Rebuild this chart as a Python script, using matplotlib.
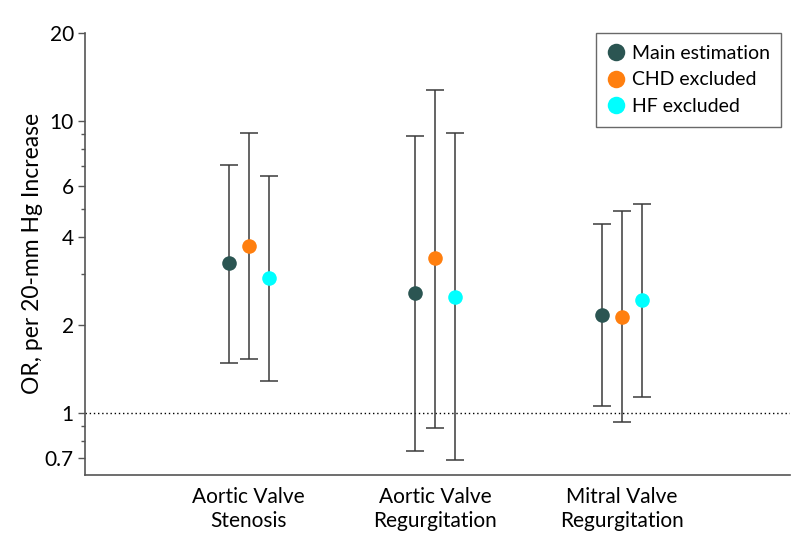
import matplotlib
matplotlib.use("Agg")
import matplotlib.pyplot as plt
from matplotlib.ticker import FixedLocator, NullFormatter, FixedFormatter

# Data.
categories = ["Aortic Valve\nStenosis", "Aortic Valve\nRegurgitation", "Mitral Valve\nRegurgitation"]
series_names = ["Main estimation", "CHD excluded", "HF excluded"]
series_colors = ["#2b5552", "#ff7f0f", "#00ffff"]

main_or = [3.25, 2.57, 2.16]
main_lo = [1.48, 0.74, 1.06]
main_hi = [7.06, 8.90, 4.43]

chd_or = [3.73, 3.38, 2.13]
chd_lo = [1.53, 0.89, 0.93]
chd_hi = [9.06, 12.8, 4.90]

hf_or = [2.89, 2.50, 2.43]
hf_lo = [1.29, 0.69, 1.13]
hf_hi = [6.50, 9.06, 5.19]

major_ticks = [0.7, 1, 2, 4, 6, 10, 20]
major_labels = ["0.7", "1", "2", "4", "6", "10", "20"]
minor_ticks = [0.8, 0.9, 3, 5, 7, 8, 9]

plt.rcParams["font.family"] = ["Lato", "DejaVu Sans"]

fig = plt.figure(figsize=(7.94, 5.49), dpi=100)
ax = fig.add_axes([0.107, 0.135, 0.888, 0.805])

offsets = [-0.107, 0.0, 0.107]
all_series = [
    (main_or, main_lo, main_hi),
    (chd_or, chd_lo, chd_hi),
    (hf_or, hf_lo, hf_hi),
]

# Reference line at OR = 1.
ax.axhline(1, color="black", linestyle=(0, (1, 2)), linewidth=1, zorder=1)

for (est, lo, hi), name, color, off in zip(all_series, series_names, series_colors, offsets):
    xs = [i + 1 + off for i in range(len(categories))]
    err = [[e - l for e, l in zip(est, lo)], [h - e for e, h in zip(est, hi)]]
    ax.errorbar(xs, est, yerr=err, fmt="none", ecolor="#3a3a3a",
                elinewidth=1.1, capsize=6.2, capthick=1.1, zorder=2)
    ax.plot(xs, est, "o", color=color, markersize=10.5, label=name, zorder=3,
            markeredgewidth=0)

ax.set_yscale("log")
ax.set_ylim(0.614, 20)
ax.set_xlim(0.123, 3.9)

ax.yaxis.set_major_locator(FixedLocator(major_ticks))
ax.yaxis.set_major_formatter(FixedFormatter(major_labels))
ax.yaxis.set_minor_locator(FixedLocator(minor_ticks))
ax.yaxis.set_minor_formatter(NullFormatter())

ax.set_xticks([1, 2, 3])
ax.set_xticklabels(categories, fontsize=15, linespacing=1.2)
ax.tick_params(axis="x", length=0, pad=9)
ax.tick_params(axis="y", which="major", length=5, width=1, labelsize=15,
               color="#555555", pad=3)
ax.tick_params(axis="y", which="minor", length=3, width=1, color="#555555")

ax.set_ylabel("OR, per 20-mm Hg Increase", fontsize=16.5, labelpad=1)

for side in ["top", "right"]:
    ax.spines[side].set_visible(False)
for side in ["left", "bottom"]:
    ax.spines[side].set_color("#555555")
    ax.spines[side].set_linewidth(1.2)

leg = ax.legend(loc="upper right", bbox_to_anchor=(0.9875, 1.0), fontsize=14,
                frameon=True, fancybox=False, edgecolor="#444444",
                handletextpad=0.35, borderpad=0.6, labelspacing=0.5,
                handlelength=0.9, markerscale=1.2, borderaxespad=0.0)
leg.get_frame().set_linewidth(1.0)

fig.savefig("out.png", dpi=100)
